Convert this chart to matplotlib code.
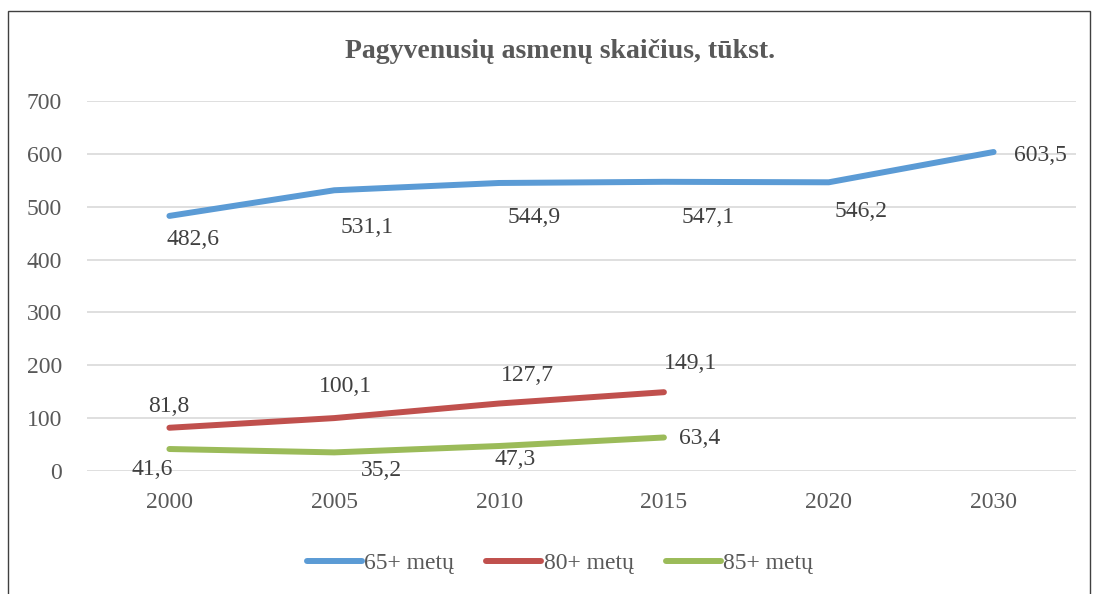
import matplotlib.pyplot as plt
from matplotlib.patches import Rectangle

years = ["2000", "2005", "2010", "2015", "2020", "2030"]
age65 = [482.6, 531.1, 544.9, 547.1, 546.2, 603.5]
age80 = [81.8, 100.1, 127.7, 149.1]
age85 = [41.6, 35.2, 47.3, 63.4]
series_names = ["65+ metų", "80+ metų", "85+ metų"]

COLORS = ["#5B9BD5", "#C0504D", "#9BBB59"]
TEXT = "#595959"

# label offsets in pixels (dx, dy), placed by hand like the source chart
OFF65 = [(24, -24), (33, -37), (35, -35), (44, -36), (32, -29), (47, -3)]
OFF80 = [(-1, 21), (11, 32), (28, 28), (27, 29)]
OFF85 = [(-17, -20), (47, -18), (16, -14), (36, -1)]

plt.rcParams["font.family"] = ["Liberation Serif", "DejaVu Serif"]

fig = plt.figure(figsize=(10.94, 5.94), dpi=100)
ax = fig.add_axes([87 / 1094, 1 - 471 / 594, 989 / 1094, 370 / 594])

# outer chart border (bottom edge is cut off in the source)
fig.patches.append(Rectangle((8 / 1094, -0.05), 1082 / 1094, 1.05 - 11 / 594,
                             transform=fig.transFigure, fill=False,
                             edgecolor="#404040", linewidth=1.0))

x = list(range(len(years)))
data = [age65, age80, age85]
offsets = [OFF65, OFF80, OFF85]

for vals, col, name, offs in zip(data, COLORS, series_names, offsets):
    xs = x[:len(vals)]
    ax.plot(xs, vals, color=col, linewidth=4.3, solid_capstyle="round", label=name, zorder=3)
    for xi, v, (dx, dy) in zip(xs, vals, offs):
        ax.annotate(f"{v:.1f}".replace(".", ","), (xi, v),
                    xytext=(dx * 0.72, dy * 0.72), textcoords="offset points",
                    ha="center", va="center", fontsize=17, color="#404040")

ax.set_xlim(-0.5, len(years) - 0.5)
ax.set_ylim(0, 700)
ax.set_yticks(range(0, 701, 100))
ax.set_xticks(x)
ax.set_xticklabels(years)
ax.grid(axis="y", color="#D9D9D9", linewidth=1.2)
ax.set_axisbelow(True)
for s in ax.spines.values():
    s.set_visible(False)
ax.tick_params(length=0, labelsize=17, labelcolor=TEXT)
ax.tick_params(axis="y", pad=18)
ax.tick_params(axis="x", pad=15)

fig.text(560 / 1094, 1 - 52 / 594, "Pagyvenusių asmenų skaičius, tūkst.",
         ha="center", va="center", fontsize=20, fontweight="bold", color=TEXT)

fig.legend(loc="center", bbox_to_anchor=(560 / 1094, 1 - 563 / 594), ncol=3,
           frameon=False, fontsize=17, handlelength=2.33, handletextpad=0.1,
           columnspacing=1.36, labelcolor=TEXT)

fig.savefig("out.png", dpi=100)
